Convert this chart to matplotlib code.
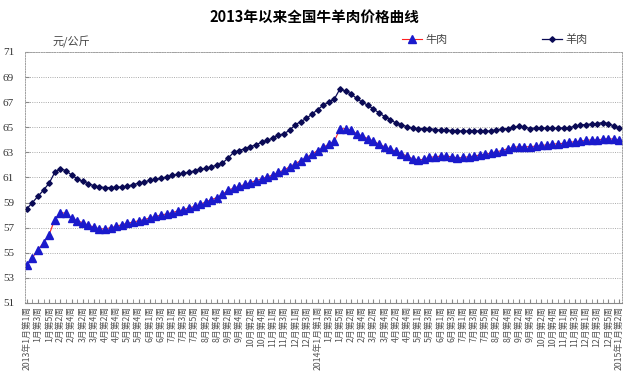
import matplotlib
matplotlib.use("Agg")
import matplotlib.pyplot as plt

plt.rcParams['font.family'] = ['Noto Sans CJK SC', 'DejaVu Sans']

# 周标签（每隔一周显示一个）
tick_labels = [
    "2013年1月第1周", "1月第3周", "1月第5周", "2月第2周", "2月第4周", "3月第2周",
    "3月第4周", "4月第2周", "4月第4周", "5月第2周", "5月第4周", "6月第1周",
    "6月第3周", "7月第1周", "7月第3周", "7月第5周", "8月第2周", "8月第4周",
    "9月第2周", "9月第4周", "10月第2周", "10月第4周", "11月第1周", "11月第3周",
    "12月第1周", "12月第3周", "2014年1月第1周", "1月第3周", "1月第5周", "2月第2周",
    "2月第4周", "3月第2周", "3月第4周", "4月第2周", "4月第4周", "5月第1周",
    "5月第3周", "6月第1周", "6月第3周", "7月第1周", "7月第3周", "7月第5周",
    "8月第2周", "8月第4周", "9月第2周", "9月第4周", "10月第2周", "10月第4周",
    "11月第1周", "11月第3周", "12月第1周", "12月第3周", "12月第5周", "2015年1月第2周",
]

beef = [
    54.0, 54.6, 55.25, 55.8, 56.45, 57.65, 58.2, 58.15, 57.75, 57.55,
    57.4, 57.2, 57.05, 56.9, 56.9, 57.0, 57.1, 57.25, 57.35, 57.45,
    57.55, 57.65, 57.78, 57.9, 58.0, 58.1, 58.2, 58.33, 58.44, 58.57,
    58.7, 58.86, 59.05, 59.24, 59.4, 59.65, 60.0, 60.15, 60.3, 60.45,
    60.6, 60.75, 60.9, 61.05, 61.2, 61.4, 61.6, 61.85, 62.1, 62.35,
    62.6, 62.85, 63.15, 63.4, 63.65, 63.9, 64.85, 64.9, 64.75, 64.5,
    64.3, 64.1, 63.9, 63.65, 63.45, 63.25, 63.1, 62.9, 62.7, 62.5,
    62.4, 62.45, 62.6, 62.65, 62.7, 62.7, 62.65, 62.55, 62.6, 62.65,
    62.7, 62.8, 62.85, 62.95, 63.05, 63.15, 63.3, 63.4, 63.45, 63.45,
    63.45, 63.5, 63.55, 63.6, 63.65, 63.7, 63.72, 63.8, 63.85, 63.9,
    63.95, 64.0, 64.0, 64.05, 64.1, 64.05, 64.0,
]

mutton = [
    58.5, 59.0, 59.5, 60.0, 60.55, 61.4, 61.7, 61.55, 61.2, 60.9,
    60.7, 60.5, 60.35, 60.25, 60.2, 60.2, 60.22, 60.25, 60.3, 60.44,
    60.54, 60.65, 60.76, 60.84, 60.94, 61.05, 61.16, 61.24, 61.32, 61.42,
    61.53, 61.64, 61.74, 61.85, 61.98, 62.15, 62.55, 63.0, 63.15, 63.3,
    63.45, 63.62, 63.8, 63.95, 64.15, 64.35, 64.5, 64.75, 65.2, 65.45,
    65.7, 66.05, 66.4, 66.75, 67.0, 67.25, 68.05, 67.9, 67.65, 67.3,
    67.0, 66.75, 66.45, 66.15, 65.85, 65.6, 65.35, 65.2, 65.05, 64.95,
    64.9, 64.9, 64.9, 64.82, 64.76, 64.76, 64.74, 64.74, 64.68, 64.7,
    64.72, 64.7, 64.68, 64.72, 64.8, 64.87, 64.9, 65.0, 65.08, 65.03,
    64.9, 64.95, 64.97, 64.93, 64.92, 64.92, 64.93, 64.97, 65.08, 65.18,
    65.22, 65.26, 65.3, 65.38, 65.3, 65.1, 64.92,
]

x = list(range(len(beef)))

fig = plt.figure(figsize=(6.28, 3.85), dpi=100)
ax = fig.add_axes([0.040, 0.213, 0.950, 0.652])

ax.plot(x, beef, color='#ff2020', linewidth=0.8, marker='^', markersize=6.3,
        markerfacecolor='#1a1acc', markeredgecolor='#1a1acc', label='牛肉')
ax.plot(x, mutton, color='#0a0a55', linewidth=0.9, marker='D', markersize=2.8,
        markerfacecolor='#0a0a55', markeredgecolor='#0a0a55', label='羊肉')

ax.set_ylim(51, 71)
ax.set_yticks(range(51, 72, 2))
ax.set_xlim(-0.3, len(beef) - 0.6)
ax.grid(axis='y', linestyle=(0, (1.2, 1.5)), color='#a0a0a0', linewidth=0.6)

ax.set_xticks(range(0, len(beef), 2))
ax.set_xticklabels(tick_labels, rotation=90, fontsize=6.3, color='#555555')
ax.set_xticks(range(len(beef)), minor=True)
ax.tick_params(axis='x', which='both', direction='in', length=3, color='#888888', pad=2)
ax.tick_params(axis='y', direction='in', length=3, color='#888888',
               labelsize=8, labelcolor='#333333', pad=8)
for lab in ax.get_yticklabels():
    lab.set_family(['Liberation Serif', 'DejaVu Serif'])

for side in ['top', 'right', 'left']:
    ax.spines[side].set_linestyle((0, (1.2, 1.5)))
    ax.spines[side].set_color('#a0a0a0')
    ax.spines[side].set_linewidth(0.7)
ax.spines['bottom'].set_color('#888888')
ax.spines['bottom'].set_linewidth(0.8)

fig.text(0.5, 0.955, '2013年以来全国牛羊肉价格曲线', ha='center', va='center',
         fontsize=10.5, fontweight='bold')
fig.text(0.083, 0.89, '元/公斤', ha='left', va='center', fontsize=8, color='#444444')

ax.legend(loc='lower left', bbox_to_anchor=(0.62, 1.0), ncol=2, frameon=False,
          fontsize=8, handlelength=1.8, handletextpad=0.3, columnspacing=8.5,
          borderaxespad=0.2, labelcolor='#444444')

fig.savefig('out.png', dpi=100)
